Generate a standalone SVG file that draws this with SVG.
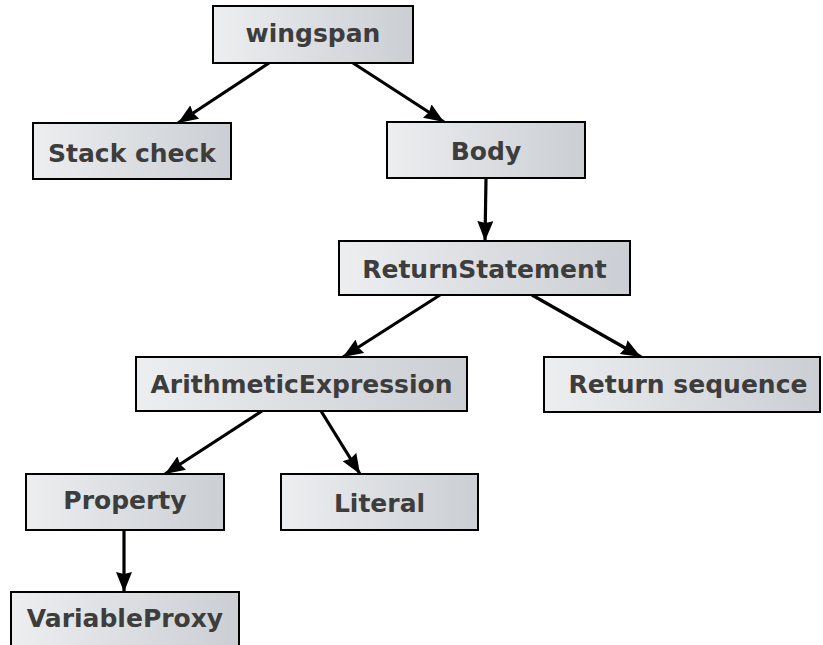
<svg xmlns="http://www.w3.org/2000/svg" width="823" height="645" viewBox="0 0 823 645">
<defs>
<linearGradient id="g" x1="0" y1="0" x2="1" y2="0">
<stop offset="0" stop-color="#eceef0"/>
<stop offset="1" stop-color="#cbced3"/>
</linearGradient>
<marker id="ah" viewBox="0 0 20 16" refX="20" refY="8" markerWidth="20" markerHeight="16" markerUnits="userSpaceOnUse" orient="auto">
<path d="M0,0 L20,8 L0,16 L2,8 Z" fill="#000"/>
</marker>
<style>
.box{fill:url(#g);stroke:#000;stroke-width:2}
.lbl{font-family:"DejaVu Sans",sans-serif;font-weight:bold;font-size:25px;fill:#3d3d3d;text-anchor:middle}
.edge{stroke:#000;stroke-width:3.2;fill:none;marker-end:url(#ah)}
</style>
</defs>
<rect width="823" height="645" fill="#fff"/>
<g id="connectors">
<line class="edge" x1="269" y1="63" x2="178" y2="123"/>
<line class="edge" x1="353" y1="63" x2="444" y2="122"/>
<line class="edge" x1="486" y1="178" x2="485" y2="241"/>
<line class="edge" x1="440" y1="295" x2="343" y2="357"/>
<line class="edge" x1="532" y1="295" x2="641" y2="357"/>
<line class="edge" x1="262" y1="411" x2="165" y2="474"/>
<line class="edge" x1="321" y1="411" x2="360" y2="474"/>
<line class="edge" x1="124" y1="530" x2="124" y2="592"/>
</g>
<g id="wingspan"><rect class="box" x="213" y="6" width="200" height="57"/><text class="lbl" x="313" y="42">wingspan</text></g>
<g id="stack-check"><rect class="box" x="33" y="123" width="198" height="56"/><text class="lbl" x="132" y="162">Stack check</text></g>
<g id="body"><rect class="box" x="387" y="122" width="198" height="56"/><text class="lbl" x="486" y="160">Body</text></g>
<g id="return-statement"><rect class="box" x="339" y="241" width="291" height="54"/><text class="lbl" x="484.5" y="278">ReturnStatement</text></g>
<g id="arithmetic-expression"><rect class="box" x="136" y="357" width="331" height="54"/><text class="lbl" x="301.5" y="393">ArithmeticExpression</text></g>
<g id="return-sequence"><rect class="box" x="544" y="357" width="276" height="55"/><text class="lbl" x="688" y="393">Return sequence</text></g>
<g id="property"><rect class="box" x="26" y="474" width="198" height="56"/><text class="lbl" x="125" y="509">Property</text></g>
<g id="literal"><rect class="box" x="281" y="474" width="197" height="56"/><text class="lbl" x="379.5" y="512">Literal</text></g>
<g id="variable-proxy"><rect class="box" x="11" y="592" width="228" height="60"/><text class="lbl" x="125" y="627">VariableProxy</text></g>
</svg>
